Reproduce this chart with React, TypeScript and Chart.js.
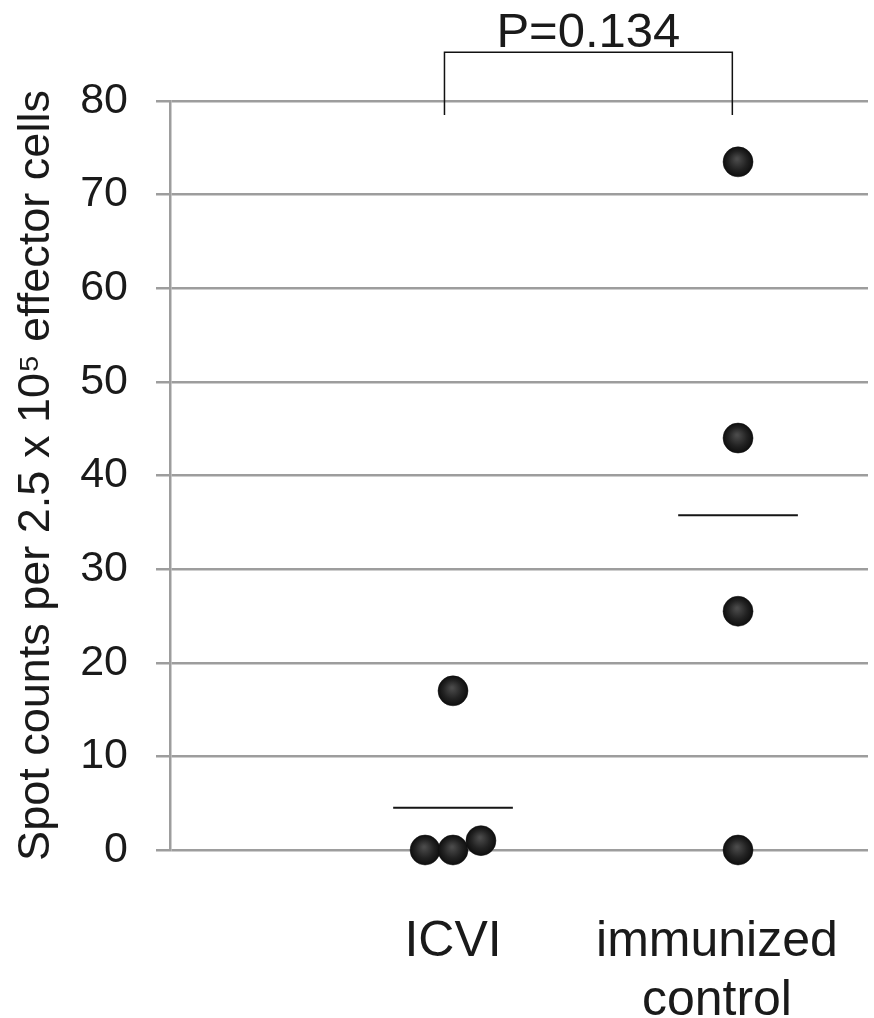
import { useEffect, useRef } from 'react';
import { Chart, registerables } from 'chart.js';

Chart.register(...registerables);

// ---- data ----
const categoryLabels: string[][] = [['ICVI'], ['immunized', 'control']];
const categoryTickValues = [1, 1.926];
const icviValues = [0, 0, 1, 17];
const icviJitter = [-0.098, 0, 0.098, 0];
const controlValues = [73.5, 44, 25.5, 0];
const controlJitter = [0, 0, 0, 0];
const yMin = 0;
const yMax = 80;
const yStep = 10;
const yTitle = 'Spot counts per 2.5 x 10\u2075 effector cells';
const pLabel = 'P=0.134';

const FONT = '"Liberation Sans", Arial, Helvetica, sans-serif';
const mean = (a: number[]) => a.reduce((s, v) => s + v, 0) / a.length;
const meanHalf = 0.21;

const groups = [
  { center: 1, values: icviValues, jitter: icviJitter },
  { center: 2, values: controlValues, jitter: controlJitter },
];

const bracket = { from: 0.97, to: 1.98, top: 85.2, bottom: 78.5 };

const bracketPlugin = {
  id: 'bracket',
  afterDraw(chart: any) {
    const { ctx, scales } = chart;
    const x = scales.x;
    const y = scales.y;
    const xl = x.getPixelForValue(bracket.from);
    const xr = x.getPixelForValue(bracket.to);
    const yt = y.getPixelForValue(bracket.top);
    const yb = y.getPixelForValue(bracket.bottom);
    ctx.save();
    ctx.strokeStyle = '#111';
    ctx.lineWidth = 1.5;
    ctx.beginPath();
    ctx.moveTo(xl, yb);
    ctx.lineTo(xl, yt);
    ctx.lineTo(xr, yt);
    ctx.lineTo(xr, yb);
    ctx.stroke();
    ctx.font = `49px ${FONT}`;
    ctx.fillStyle = '#1a1a1a';
    ctx.textAlign = 'center';
    ctx.textBaseline = 'alphabetic';
    ctx.fillText(pLabel, (xl + xr) / 2, yt - 5);
    ctx.restore();
  },
};

const sphere = (c: any) => {
  const chart = c.chart;
  const raw = c.raw;
  const xs = chart.scales?.x;
  const ys = chart.scales?.y;
  if (!raw || !xs || !ys) return '#1a1a1a';
  const px = xs.getPixelForValue(raw.x);
  const py = ys.getPixelForValue(raw.y);
  if (!isFinite(px) || !isFinite(py)) return '#1a1a1a';
  const g = chart.ctx.createRadialGradient(px - 1, py - 3, 1, px, py, 15);
  g.addColorStop(0, '#4a4a4a');
  g.addColorStop(0.6, '#222222');
  g.addColorStop(1, '#0e0e0e');
  return g;
};

export default function App() {
  const ref = useRef<HTMLCanvasElement>(null);
  useEffect(() => {
    const pointDatasets = groups.map((g) => ({
      type: 'scatter' as const,
      data: g.values.map((v, i) => ({ x: g.center + g.jitter[i], y: v })),
      pointRadius: 15,
      pointBackgroundColor: sphere,
      pointBorderColor: '#111',
      pointBorderWidth: 0.5,
      showLine: false,
      clip: false as any,
    }));
    const meanDatasets = groups.map((g) => {
      const m = mean(g.values);
      return {
        type: 'scatter' as const,
        data: [
          { x: g.center - meanHalf, y: m },
          { x: g.center + meanHalf, y: m },
        ],
        showLine: true,
        borderColor: '#151515',
        borderWidth: 2,
        pointRadius: 0,
        clip: false as any,
      };
    });
    const chart = new Chart(ref.current!, {
      type: 'scatter',
      data: { datasets: [...meanDatasets, ...pointDatasets] as any },
      plugins: [bracketPlugin],
      options: {
        responsive: false,
        animation: false,
        events: [],
        layout: { autoPadding: false, padding: { top: 101, right: 6, left: 0, bottom: 0 } },
        plugins: { legend: { display: false }, tooltip: { enabled: false } },
        scales: {
          x: {
            type: 'linear',
            min: 0.007,
            max: 2.456,
            grid: { display: false },
            border: { display: false },
            afterBuildTicks: (s: any) => {
              s.ticks = categoryTickValues.map((v) => ({ value: v }));
            },
            afterFit: (s: any) => {
              s.height = 168;
              s.paddingLeft = 0;
              s.paddingRight = 0;
            },
            ticks: {
              autoSkip: false,
              maxRotation: 0,
              minRotation: 0,
              padding: 55,
              color: '#1a1a1a',
              font: { size: 50, family: FONT, lineHeight: 1.17 },
              callback: (_v: any, i: number) => categoryLabels[i] as any,
            },
          },
          y: {
            type: 'linear',
            min: yMin,
            max: yMax,
            afterFit: (s: any) => {
              s.width = 170;
              s.paddingTop = 0;
              s.paddingBottom = 0;
            },
            ticks: {
              stepSize: yStep,
              padding: 28,
              color: '#1a1a1a',
              font: { size: 43, family: FONT },
            },
            grid: {
              color: '#9d9d9d',
              lineWidth: 2.5,
              tickLength: 14,
              drawTicks: true,
            },
            border: { display: true, color: '#9d9d9d', width: 2.5 },
            title: {
              display: true,
              text: yTitle,
              color: '#1a1a1a',
              font: { size: 45, family: FONT, lineHeight: 1.2 },
              padding: { top: 10, bottom: 0 },
            },
          },
        },
      },
    });
    return () => chart.destroy();
  }, []);
  return (
    <div style={{ position: 'absolute', left: 0, top: 0, width: 874, height: 1018, background: '#fff' }}>
      <canvas ref={ref} width={874} height={1018} style={{ display: 'block', width: 874, height: 1018 }} />
    </div>
  );
}
